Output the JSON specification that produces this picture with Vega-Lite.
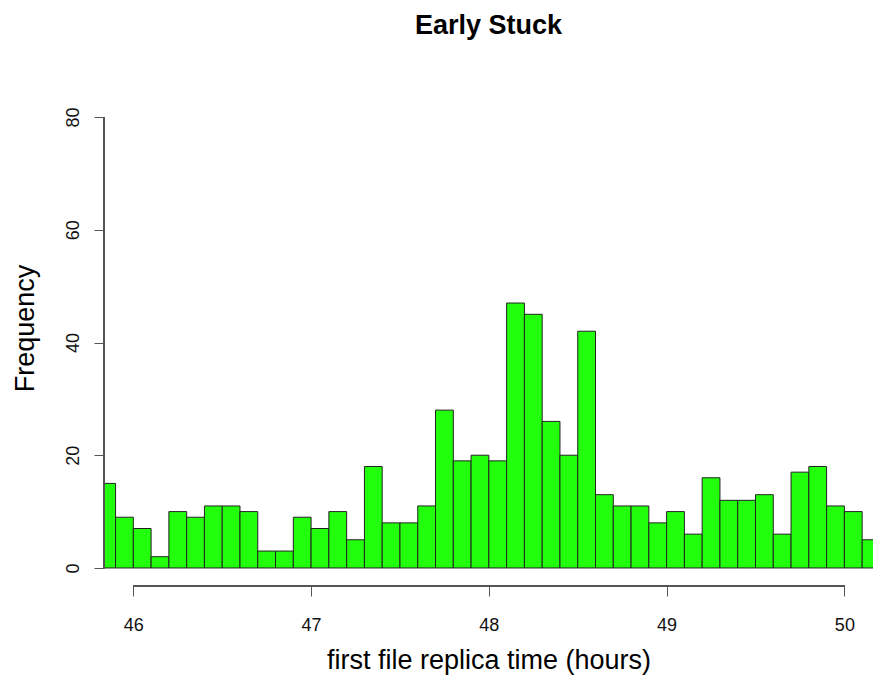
{
  "$schema": "https://vega.github.io/schema/vega-lite/v6.json",
  "autosize": "none",
  "width": 769,
  "height": 487,
  "padding": {"left": 104, "top": 99, "right": 0, "bottom": 94},
  "background": "white",
  "config": {"view": {"stroke": null}, "font": "Liberation Sans"},
  "title": {"text": "Early Stuck", "fontSize": 27, "fontWeight": "bold", "font": "Liberation Sans", "color": "#000000", "anchor": "middle", "frame": "group", "baseline": "alphabetic", "offset": 38},
  "data": {"values": [
    {"start": 45.8, "end": 45.9, "count": 15},
    {"start": 45.9, "end": 46.0, "count": 9},
    {"start": 46.0, "end": 46.1, "count": 7},
    {"start": 46.1, "end": 46.2, "count": 2},
    {"start": 46.2, "end": 46.3, "count": 10},
    {"start": 46.3, "end": 46.4, "count": 9},
    {"start": 46.4, "end": 46.5, "count": 11},
    {"start": 46.5, "end": 46.6, "count": 11},
    {"start": 46.6, "end": 46.7, "count": 10},
    {"start": 46.7, "end": 46.8, "count": 3},
    {"start": 46.8, "end": 46.9, "count": 3},
    {"start": 46.9, "end": 47.0, "count": 9},
    {"start": 47.0, "end": 47.1, "count": 7},
    {"start": 47.1, "end": 47.2, "count": 10},
    {"start": 47.2, "end": 47.3, "count": 5},
    {"start": 47.3, "end": 47.4, "count": 18},
    {"start": 47.4, "end": 47.5, "count": 8},
    {"start": 47.5, "end": 47.6, "count": 8},
    {"start": 47.6, "end": 47.7, "count": 11},
    {"start": 47.7, "end": 47.8, "count": 28},
    {"start": 47.8, "end": 47.9, "count": 19},
    {"start": 47.9, "end": 48.0, "count": 20},
    {"start": 48.0, "end": 48.1, "count": 19},
    {"start": 48.1, "end": 48.2, "count": 47},
    {"start": 48.2, "end": 48.3, "count": 45},
    {"start": 48.3, "end": 48.4, "count": 26},
    {"start": 48.4, "end": 48.5, "count": 20},
    {"start": 48.5, "end": 48.6, "count": 42},
    {"start": 48.6, "end": 48.7, "count": 13},
    {"start": 48.7, "end": 48.8, "count": 11},
    {"start": 48.8, "end": 48.9, "count": 11},
    {"start": 48.9, "end": 49.0, "count": 8},
    {"start": 49.0, "end": 49.1, "count": 10},
    {"start": 49.1, "end": 49.2, "count": 6},
    {"start": 49.2, "end": 49.3, "count": 16},
    {"start": 49.3, "end": 49.4, "count": 12},
    {"start": 49.4, "end": 49.5, "count": 12},
    {"start": 49.5, "end": 49.6, "count": 13},
    {"start": 49.6, "end": 49.7, "count": 6},
    {"start": 49.7, "end": 49.8, "count": 17},
    {"start": 49.8, "end": 49.9, "count": 18},
    {"start": 49.9, "end": 50.0, "count": 11},
    {"start": 50.0, "end": 50.1, "count": 10},
    {"start": 50.1, "end": 50.2, "count": 5}
  ]},
  "layer": [
    {
      "mark": {"type": "bar", "clip": true, "fill": "#22ff0c", "stroke": "#222222", "strokeWidth": 1},
      "encoding": {
        "x": {
          "field": "start", "type": "quantitative",
          "scale": {"domain": [45.835, 50.161], "nice": false, "zero": false},
          "axis": {
            "values": [46, 47, 48, 49, 50], "format": "d", "grid": false, "domain": false,
            "tickSize": 10, "tickColor": "#555555", "tickWidth": 1,
            "labelFontSize": 18, "labelColor": "#111111", "labelFont": "Liberation Sans",
            "labelBaseline": "alphabetic", "labelPadding": 34,
            "title": "first file replica time (hours)", "titleFontSize": 27, "titleFontWeight": "normal",
            "titleFont": "Liberation Sans", "titleColor": "#000000",
            "titleBaseline": "alphabetic", "titleAnchor": "middle", "titleY": 82, "titleX": 384.5, "titleAlign": "center"
          }
        },
        "x2": {"field": "end"},
        "y": {
          "field": "count", "type": "quantitative",
          "scale": {"domain": [-3.2, 83.2], "nice": false, "zero": false},
          "axis": {
            "values": [0, 20, 40, 60, 80], "grid": false, "domain": false,
            "tickSize": 10, "tickColor": "#555555", "tickWidth": 1,
            "labelFontSize": 18, "labelColor": "#111111", "labelFont": "Liberation Sans",
            "labelAngle": 270, "labelAlign": "center", "labelBaseline": "alphabetic", "labelPadding": 16,
            "title": "Frequency", "titleFontSize": 27, "titleFontWeight": "normal",
            "titleFont": "Liberation Sans", "titleColor": "#000000", "titleAngle": 270,
            "titleBaseline": "alphabetic", "titleAlign": "center", "titleX": -71, "titleY": 229
          }
        },
        "y2": {"datum": 0}
      }
    },
    {
      "mark": {"type": "rule", "color": "#555555", "strokeWidth": 1},
      "encoding": {
        "x": {"datum": 45.835},
        "y": {"datum": 0},
        "y2": {"datum": 80}
      }
    },
    {
      "mark": {"type": "rule", "color": "#555555", "strokeWidth": 1},
      "encoding": {
        "x": {"datum": 46},
        "x2": {"datum": 50},
        "y": {"datum": -3.2}
      }
    }
  ]
}
